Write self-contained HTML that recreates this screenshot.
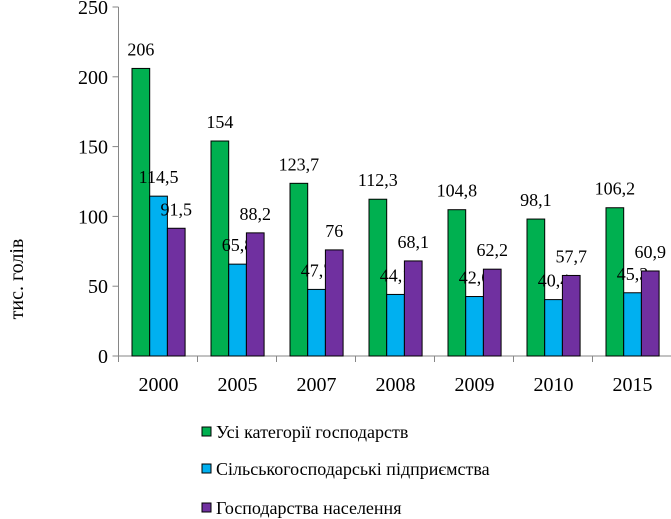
<!DOCTYPE html>
<html><head><meta charset="utf-8"><style>
html,body{margin:0;padding:0;background:#fff;}
svg{display:block;font-family:"Liberation Serif",serif;}
</style></head><body>
<svg id="chart" width="671" height="519"></svg>
<script>
const categories=["2000","2005","2007","2008","2009","2010","2015"];
const seriesAll=[206,154,123.7,112.3,104.8,98.1,106.2];
const seriesAgri=[114.5,65.8,47.7,44.1,42.6,40.4,45.3];
const seriesHouse=[91.5,88.2,76,68.1,62.2,57.7,60.9];
const yTicks=[0,50,100,150,200,250];
const seriesNames=["Усі категорії господарств","Сільськогосподарські підприємства","Господарства населення"];
const colors=["#00b050","#00b0f0","#7030a0"];
const NS="http://www.w3.org/2000/svg";
const svg=document.getElementById('chart');
const x0=118.5,catW=79,y0=356,yTop=7,yMax=250,barW=17.7,groupOff=13.5;
function yScale(v){return y0-(v/yMax)*(y0-yTop);}
function xCat(i){return x0+i*catW;}
function el(t,a,txt){const e=document.createElementNS(NS,t);for(const k in a)e.setAttribute(k,a[k]);if(txt!==undefined)e.textContent=txt;svg.appendChild(e);return e;}
function fmt(v){return String(v).replace('.',',');}
// axes
let ya=el('line',{x1:x0,y1:yTop,x2:x0,y2:y0,stroke:'#868686','stroke-width':1});


let xa=el('line',{x1:x0,y1:y0,x2:671,y2:y0,stroke:'#868686','stroke-width':1});


yTicks.forEach(t=>{
  const y=yScale(t);
  let tk=el('line',{x1:x0-6,y1:y,x2:x0,y2:y,stroke:'#868686'});
  
  
  let lb=el('text',{x:108,y:y+7,'text-anchor':'end','font-size':20},String(t));
  
  
});
const all=[seriesAll,seriesAgri,seriesHouse];
categories.forEach((c,i)=>{
  let tk=el('line',{x1:xCat(i),y1:y0,x2:xCat(i),y2:y0+6,stroke:'#868686'});
  
  
  let lb=el('text',{x:xCat(i)+groupOff+barW*1.5,y:391,'text-anchor':'middle','font-size':20},c);
  
  
  all.forEach((s,j)=>{
    const bx=xCat(i)+groupOff+j*barW, by=yScale(s[i]);
    let r=el('rect',{x:bx,y:by,width:barW,height:y0-by,fill:colors[j],stroke:'#000','stroke-width':1});
    
    
    let vl=el('text',{x:bx+barW/2,y:by-13,'text-anchor':'middle','font-size':18},fmt(s[i]));
    
    
  });
});
let yt=el('text',{x:0,y:0,'text-anchor':'middle','font-size':20,transform:'translate(23,279) rotate(-90)'},'тис. голів');


const legY=[432,469,508];
seriesNames.forEach((n,j)=>{
  let sq=el('rect',{x:202,y:legY[j]-5,width:9,height:9,fill:colors[j],stroke:'#000','stroke-width':1});
  
  
  let t=el('text',{x:216,y:legY[j]+6,'font-size':18},n);
  
  
});
</script>
</body></html>
